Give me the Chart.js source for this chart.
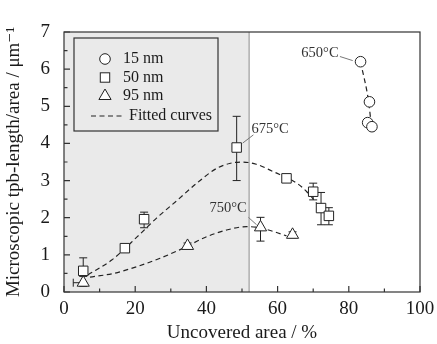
<!DOCTYPE html>
<html>
<head>
<meta charset="utf-8">
<script src="https://cdn.jsdelivr.net/npm/chart.js@4.4.0/dist/chart.umd.min.js"></script>
<style>
  html, body { margin: 0; padding: 0; background: #fff; }
</style>
</head>
<body>
<canvas id="myChart" width="437" height="344"></canvas>
<script>
// 15 nm
var c15x = [83.3, 85.8, 85.3, 86.5]
var c15y = [6.2, 5.12, 4.56, 4.45]
// 50 nm
var s50x  = [5.4, 17.1, 22.5, 48.5, 62.5, 70.0, 72.2, 74.4]
var s50y  = [0.57, 1.18, 1.96, 3.89, 3.06, 2.70, 2.26, 2.05]
var s50lo = [0.25, 1.12, 1.73, 3.00, 3.00, 2.48, 1.81, 1.81]
var s50hi = [0.92, 1.24, 2.15, 4.73, 3.12, 2.93, 2.68, 2.27]
// 95 nm
var t95x  = [5.4, 34.7, 55.2, 64.2]
var t95y  = [0.25, 1.24, 1.74, 1.54]
var t95lo = [0.15, 1.16, 1.37, 1.46]
var t95hi = [0.42, 1.32, 2.01, 1.62]
var t95xlo = [2.6, null, null, null]

// fitted curves
var f50x = [6.7, 13.4, 20.6, 26.0, 31.7, 37.3, 42.9, 46.5, 50.0, 54.0, 58.8, 65.4, 68.2, 72.8]
var f50y = [0.46, 0.86, 1.49, 1.99, 2.46, 2.93, 3.33, 3.46, 3.50, 3.44, 3.24, 2.93, 2.70, 2.16]
var f95x = [7.3, 13.9, 20.4, 27.0, 33.5, 40.1, 45.7, 51.3, 55.0, 58.8, 62.5]
var f95y = [0.40, 0.50, 0.68, 0.91, 1.18, 1.49, 1.67, 1.76, 1.73, 1.63, 1.51]
var f15x = [83.3, 85.6, 86.3]
var f15y = [6.2, 5.1, 4.5]

var shadeEnd = 52

var annText = ['650°C', '675°C', '750°C']
var annX = [71.9, 57.9, 46.1]
var annY = [6.44, 4.37, 2.26]
var leadX1 = [77.5, 53.2, 51.8], leadY1 = [6.34, 4.23, 2.01]
var leadX2 = [81.1, 50.2, 54.1], leadY2 = [6.23, 4.01, 1.81]

var legendLabels = ['15 nm', '50 nm', '95 nm', 'Fitted curves']

var serif = '"Liberation Serif", "DejaVu Serif", serif'
var ink = '#222'

function pts(xs, ys) {
  let out = []
  for (let i = 0; i < xs.length; i++) out.push({x: xs[i], y: ys[i]})
  return out
}

function markerSet(label, xs, ys, style, r) {
  return {
    label: label, type: 'scatter', data: pts(xs, ys),
    pointStyle: style, pointRadius: r, pointHoverRadius: r,
    backgroundColor: '#fff', borderColor: ink, borderWidth: 1, order: 1
  }
}

function fitSet(xs, ys) {
  return {
    label: 'fit', type: 'line', data: pts(xs, ys), showLine: true,
    borderColor: ink, borderWidth: 1.2, borderDash: [5, 3.5],
    pointRadius: 0, cubicInterpolationMode: 'monotone', fill: false, order: 2
  }
}

function errBars(ctx, x, y, xs, ys, lo, hi) {
  for (let i = 0; i < xs.length; i++) {
    let px = x.getPixelForValue(xs[i])
    let p1 = y.getPixelForValue(lo[i]), p2 = y.getPixelForValue(hi[i])
    ctx.beginPath()
    ctx.moveTo(px, p1); ctx.lineTo(px, p2)
    ctx.moveTo(px - 4, p1); ctx.lineTo(px + 4, p1)
    ctx.moveTo(px - 4, p2); ctx.lineTo(px + 4, p2)
    ctx.stroke()
  }
}

const decor = {
  id: 'decor',
  beforeDatasetsDraw(chart) {
    const {ctx, chartArea: a, scales: {x, y}} = chart
    ctx.save()
    let xs = x.getPixelForValue(shadeEnd)
    ctx.fillStyle = '#eaeaea'
    ctx.fillRect(a.left, a.top, xs - a.left, a.bottom - a.top)
    ctx.strokeStyle = '#a5a5a5'; ctx.lineWidth = 1.3
    ctx.beginPath(); ctx.moveTo(xs, a.top); ctx.lineTo(xs, a.bottom); ctx.stroke()

    ctx.strokeStyle = ink; ctx.lineWidth = 1
    errBars(ctx, x, y, s50x, s50y, s50lo, s50hi)
    errBars(ctx, x, y, t95x, t95y, t95lo, t95hi)
    for (let i = 0; i < t95x.length; i++) {
      if (t95xlo[i] == null) continue
      let p1 = x.getPixelForValue(t95xlo[i]), p2 = x.getPixelForValue(t95x[i]), py = y.getPixelForValue(t95y[i])
      ctx.beginPath()
      ctx.moveTo(p1, py); ctx.lineTo(p2, py)
      ctx.moveTo(p1, py - 4); ctx.lineTo(p1, py + 4)
      ctx.stroke()
    }
    ctx.restore()
  },
  afterDatasetsDraw(chart) {
    const {ctx, chartArea: a, scales: {x, y}} = chart
    ctx.save()
    // frame
    ctx.strokeStyle = '#333'; ctx.lineWidth = 1.2
    ctx.strokeRect(a.left, a.top, a.right - a.left, a.bottom - a.top)
    // inner ticks
    ctx.beginPath()
    for (let v = 0; v <= 100; v += 10) {
      let px = x.getPixelForValue(v), len = v % 20 == 0 ? 6 : 3.5
      ctx.moveTo(px, a.bottom); ctx.lineTo(px, a.bottom - len)
    }
    for (let v = 0; v <= 7; v += 0.5) {
      let py = y.getPixelForValue(v), len = v % 1 == 0 ? 6 : 3.5
      ctx.moveTo(a.left, py); ctx.lineTo(a.left + len, py)
    }
    ctx.stroke()

    // annotations
    ctx.fillStyle = '#333'
    ctx.font = '14.5px ' + serif
    ctx.textAlign = 'center'; ctx.textBaseline = 'middle'
    for (let i = 0; i < annText.length; i++) {
      ctx.fillText(annText[i], x.getPixelForValue(annX[i]), y.getPixelForValue(annY[i]))
    }
    ctx.strokeStyle = '#777'; ctx.lineWidth = 1
    ctx.beginPath()
    for (let i = 0; i < leadX1.length; i++) {
      ctx.moveTo(x.getPixelForValue(leadX1[i]), y.getPixelForValue(leadY1[i]))
      ctx.lineTo(x.getPixelForValue(leadX2[i]), y.getPixelForValue(leadY2[i]))
    }
    ctx.stroke()

    // legend
    let lx = a.left + 10, ly = a.top + 6
    ctx.strokeStyle = '#333'; ctx.lineWidth = 1.2
    ctx.strokeRect(lx, ly, 144, 93)
    ctx.lineWidth = 1; ctx.strokeStyle = ink; ctx.fillStyle = '#fff'
    let mx = lx + 31, rows = [ly + 21, ly + 39.5, ly + 58, ly + 78]
    ctx.beginPath(); ctx.arc(mx, rows[0], 5.3, 0, Math.PI * 2); ctx.fill(); ctx.stroke()
    ctx.fillRect(mx - 4.7, rows[1] - 4.7, 9.4, 9.4); ctx.strokeRect(mx - 4.7, rows[1] - 4.7, 9.4, 9.4)
    ctx.beginPath()
    ctx.moveTo(mx, rows[2] - 7); ctx.lineTo(mx + 6.1, rows[2] + 3.5); ctx.lineTo(mx - 6.1, rows[2] + 3.5); ctx.closePath()
    ctx.fill(); ctx.stroke()
    ctx.setLineDash([5, 3.5]); ctx.lineWidth = 1.2
    ctx.beginPath(); ctx.moveTo(lx + 17, rows[3]); ctx.lineTo(lx + 49, rows[3]); ctx.stroke()
    ctx.setLineDash([])
    ctx.fillStyle = '#1a1a1a'
    ctx.font = '16px ' + serif
    ctx.textAlign = 'left'
    for (let i = 0; i < 3; i++) ctx.fillText(legendLabels[i], lx + 49, rows[i])
    ctx.fillText(legendLabels[3], lx + 55, rows[3])
    ctx.restore()
  }
}

var myChart = new Chart(document.getElementById('myChart'), {
  type: 'scatter',
  data: {
    datasets: [
      markerSet('15 nm', c15x, c15y, 'circle', 5.3),
      markerSet('50 nm', s50x, s50y, 'rect', 6.7),
      markerSet('95 nm', t95x, t95y, 'triangle', 7),
      fitSet(f50x, f50y),
      fitSet(f95x, f95y),
      fitSet(f15x, f15y)
    ]
  },
  options: {
    responsive: false,
    animation: false,
    layout: { padding: { top: 32, right: 17, left: 0, bottom: 0 } },
    plugins: { legend: { display: false }, tooltip: { enabled: false } },
    scales: {
      x: {
        type: 'linear', min: 0, max: 100,
        grid: { display: false }, border: { display: false },
        ticks: { stepSize: 20, color: '#1a1a1a', padding: -2, font: { family: serif, size: 19 } },
        title: { display: true, text: 'Uncovered area / %', color: '#1a1a1a', padding: 0, font: { family: serif, size: 19 } },
        afterFit(s) { s.height = 52 }
      },
      y: {
        type: 'linear', min: 0, max: 7,
        grid: { display: false }, border: { display: false },
        ticks: { stepSize: 1, color: '#1a1a1a', padding: 6, font: { family: serif, size: 19 } },
        title: { display: true, text: 'Microscopic tpb-length/area / μm⁻¹', color: '#1a1a1a', padding: { top: 3, bottom: 0 }, font: { family: serif, size: 19 } },
        afterFit(s) { s.width = 64 }
      }
    }
  },
  plugins: [decor]
})
</script>
</body>
</html>
